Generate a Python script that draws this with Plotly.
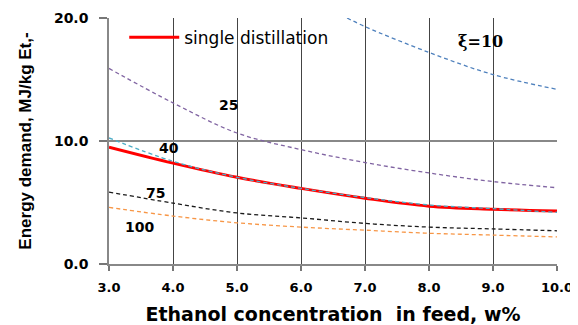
import plotly.graph_objects as go

x_feed = [3.0, 4.0, 5.0, 6.0, 7.0, 8.0, 9.0, 10.0]
single_distillation = [9.5, 8.2, 7.05, 6.15, 5.35, 4.7, 4.45, 4.3]
xi10_x = [6.72, 7.0, 8.0, 9.0, 10.0]
xi10 = [20.0, 19.3, 17.2, 15.4, 14.2]
xi25 = [15.9, 13.1, 10.65, 9.3, 8.25, 7.4, 6.7, 6.2]
xi40 = [10.25, 8.35, 7.05, 6.15, 5.4, 4.8, 4.5, 4.2]
xi75 = [5.85, 4.95, 4.15, 3.75, 3.3, 3.0, 2.85, 2.7]
xi100 = [4.6, 3.9, 3.35, 3.0, 2.75, 2.5, 2.35, 2.2]
x_ticks = [3, 4, 5, 6, 7, 8, 9, 10]
y_ticks = [0, 10, 20]

BOLD = "DejaVu Sans"

fig = go.Figure()

def dashed(xs, ys, color):
    fig.add_trace(go.Scatter(x=xs, y=ys, mode="lines", showlegend=False,
                             line=dict(color=color, width=1.3, dash="4px,3px", shape="spline")))

dashed(xi10_x, xi10, "#4f81bd")
dashed(x_feed, xi25, "#8064a2")
dashed(x_feed, xi75, "#1a1a1a")
dashed(x_feed, xi100, "#f79646")
fig.add_trace(go.Scatter(x=x_feed, y=single_distillation, mode="lines", name="single distillation",
                         line=dict(color="#ff0000", width=3, shape="spline")))
dashed(x_feed, xi40, "#4bacc6")

labels = [(8.8, 18.1, "<b>ξ=10</b>", "DejaVu Serif", 16), (4.86, 12.95, "<b>25</b>", BOLD, 14),
          (3.94, 9.43, "<b>40</b>", BOLD, 14), (3.72, 5.77, "<b>75</b>", BOLD, 14),
          (3.48, 3.0, "<b>100</b>", BOLD, 14)]
for lx, ly, txt, fam, sz in labels:
    fig.add_annotation(x=lx, y=ly, text=txt, showarrow=False,
                       font=dict(size=sz, family=fam, color="#000"))

fig.update_layout(
    width=570, height=317,
    margin=dict(l=101, r=21, t=10, b=61, autoexpand=False),
    plot_bgcolor="white", paper_bgcolor="white",
    font=dict(family=BOLD, color="#000", size=14),
    legend=dict(x=0.034, y=0.92, xanchor="left", yanchor="middle", bgcolor="rgba(0,0,0,0)",
                font=dict(size=17, family="DejaVu Sans", color="#000"), itemwidth=50),
    xaxis=dict(range=[3, 10], tickvals=x_ticks, ticktext=[f"<b>{v:.1f}</b>" for v in x_ticks],
               showgrid=True, gridcolor="#444", gridwidth=1, zeroline=False, automargin=False,
               showline=True, linecolor="#888", linewidth=1.5, mirror=False,
               ticks="outside", ticklen=5, tickcolor="#777", tickwidth=1.5, ticklabelstandoff=6,
               tickfont=dict(size=13, family=BOLD),
               title=dict(text="<b>Ethanol concentration  in feed, w%</b>", font=dict(size=19, family=BOLD), standoff=21)),
    yaxis=dict(range=[0, 20], tickvals=y_ticks, ticktext=[f"<b>{v:.1f}</b>" for v in y_ticks],
               showgrid=True, gridcolor="#888", gridwidth=1.5, zeroline=False, automargin=False,
               showline=True, linecolor="#888", linewidth=1.5,
               ticks="outside", ticklen=8, tickcolor="#777", tickwidth=1.5, ticklabelstandoff=8,
               tickfont=dict(size=14, family=BOLD),
               title=dict(text="<b>Energy demand, MJ/kg Et,-</b>", font=dict(size=17, family="Liberation Sans Narrow, Liberation Sans"), standoff=18)),
)

fig.write_html("out.html")
